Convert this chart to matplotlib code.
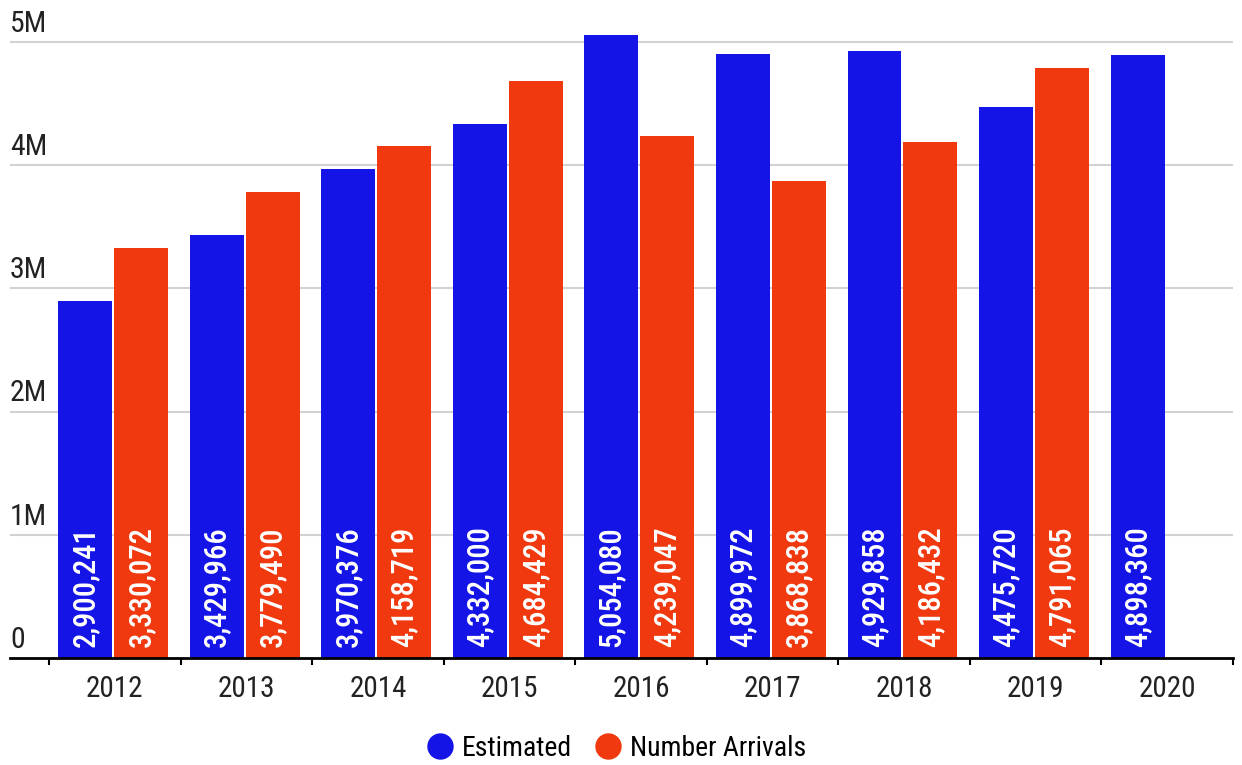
import matplotlib.pyplot as plt
from matplotlib.lines import Line2D
import numpy as np

plt.rcParams['font.family'] = ['Roboto Condensed', 'Roboto', 'DejaVu Sans']

# Daten
jahre = ['2012', '2013', '2014', '2015', '2016', '2017', '2018', '2019', '2020']
geschaetzt = [2900241, 3429966, 3970376, 4332000, 5054080, 4899972, 4929858, 4475720, 4898360]
ankuenfte = [3330072, 3779490, 4158719, 4684429, 4239047, 3868838, 4186432, 4791065]
y_ticks = [0, 1000000, 2000000, 3000000, 4000000, 5000000]
y_labels = ['0', '1M', '2M', '3M', '4M', '5M']

blau = '#1414e6'
orange = '#f0390e'

fig = plt.figure(figsize=(12.42, 7.65), dpi=100)
ax = fig.add_axes([10 / 1242, 1 - 658 / 765, 1223 / 1242, (658 - 17.4) / 765])

x = np.arange(len(jahre))
breite = 0.41

ax.bar(x - 0.225, geschaetzt, breite, color=blau, zorder=3)
ax.bar(x[:len(ankuenfte)] + 0.2, ankuenfte, breite, color=orange, zorder=3)

# Beschriftungen in den Balken
for i, v in enumerate(geschaetzt):
    ax.annotate(f'{v:,}', (x[i] - 0.225, 0), xytext=(0, 8), textcoords='offset points',
                rotation=90, ha='center', va='bottom', color='white',
                fontsize=22, fontweight='medium', zorder=4)
for i, v in enumerate(ankuenfte):
    ax.annotate(f'{v:,}', (x[i] + 0.2, 0), xytext=(0, 8), textcoords='offset points',
                rotation=90, ha='center', va='bottom', color='white',
                fontsize=22, fontweight='medium', zorder=4)

ax.set_xlim(-0.5 - 39 / 131.6, len(jahre) - 0.5)
ax.set_ylim(0, 5200000)

# Gitterlinien und y-Beschriftung
for t, lab in zip(y_ticks, y_labels):
    if t > 0:
        ax.axhline(t, color='#d2d2d2', lw=1.5, zorder=1)
    ax.annotate(lab, (0, t), xycoords=('axes fraction', 'data'), xytext=(0, 3),
                textcoords='offset points', ha='left', va='bottom',
                fontsize=21.5, color='#222222')

ax.set_yticks([])
ax.set_xticks(x)
ax.set_xticklabels(jahre, fontsize=21, color='#222222')
ax.set_xticks(np.arange(len(jahre) + 1) - 0.5, minor=True)
ax.tick_params(axis='x', which='major', length=0, pad=12)
ax.tick_params(axis='x', which='minor', length=5, width=1.5, color='black')

for s in ['top', 'right', 'left']:
    ax.spines[s].set_visible(False)
ax.spines['bottom'].set_linewidth(2)
ax.spines['bottom'].set_zorder(5)

# Legende
griffe = [Line2D([], [], marker='o', ls='', color=blau, markersize=18),
          Line2D([], [], marker='o', ls='', color=orange, markersize=18)]
fig.legend(griffe, ['Estimated', 'Number Arrivals'], loc='center',
           bbox_to_anchor=(0.496, 1 - 748 / 765), ncol=2, frameon=False,
           fontsize=20, handletextpad=0.3, columnspacing=0.8, handlelength=1.0)

fig.savefig('out.png', dpi=100)
